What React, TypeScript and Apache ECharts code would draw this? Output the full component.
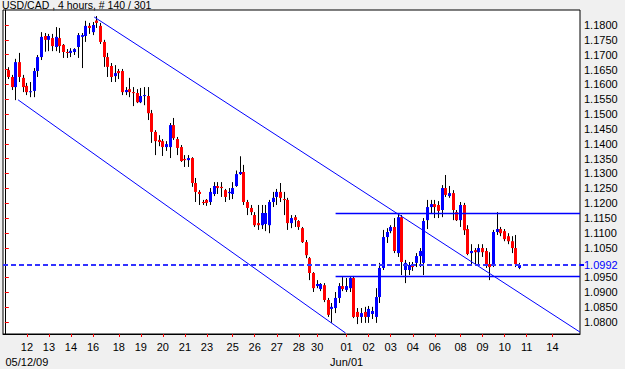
import React, { useEffect, useRef } from "react";
import * as echarts from "echarts";

const TITLE = "USD/CAD , 4 hours, # 140 / 301";
const SLOT_COUNT = 157;
const FIRST_SLOT = 1;

const tickSlots = [6, 12, 18, 24, 31, 37, 43, 49, 55, 62, 68, 74, 80, 85, 93, 99, 105, 111, 117, 124, 130, 136, 142, 149];
const tickLabels = ["12", "13", "14", "16", "18", "19", "20", "21", "23", "25", "26", "27", "28", "30", "01", "02", "03", "04", "06", "08", "09", "10", "11", "14"];
const dateSlots = [6, 93];
const dateLabels = ["05/12/09", "Jun/01"];

const priceTicks = [1.08, 1.085, 1.09, 1.095, 1.105, 1.11, 1.115, 1.12, 1.125, 1.13, 1.135, 1.14, 1.145, 1.15, 1.155, 1.16, 1.165, 1.17, 1.175, 1.18];
const lastPrice = 1.0992;
const Y_MIN = 1.07596;
const Y_MAX = 1.18505;

const opens = [
  1.1648, 1.1625, 1.1591, 1.1675, 1.1622, 1.1595, 1.1574, 1.1578, 1.1645, 1.1692,
  1.1763, 1.1750, 1.1756, 1.1726, 1.1756, 1.1733, 1.1709, 1.1706, 1.1709, 1.1726,
  1.1760, 1.1763, 1.1797, 1.1776, 1.1815, 1.1797, 1.1743, 1.1692, 1.1662, 1.1628,
  1.1645, 1.1645, 1.1574, 1.1584, 1.1574, 1.1571, 1.1540, 1.1561, 1.1561, 1.1503,
  1.1440, 1.1413, 1.1409, 1.1389, 1.1389, 1.1463, 1.1416, 1.1389, 1.1349, 1.1345,
  1.1352, 1.1268, 1.1238, 1.1204, 1.1211, 1.1204, 1.1231, 1.1258, 1.1255, 1.1244,
  1.1234, 1.1231, 1.1258, 1.1298, 1.1305, 1.1204, 1.1184, 1.1160, 1.1133, 1.1126,
  1.1130, 1.1126, 1.1204, 1.1221, 1.1238, 1.1214, 1.1211, 1.1133, 1.1153, 1.1140,
  1.1116, 1.1069, 1.1015, 1.0965, 1.0921, 1.0911, 1.0924, 1.0874, 1.0844, 1.0847,
  1.0881, 1.0921, 1.0908, 1.0914, 1.0948, 1.0834, 1.0817, 1.0834, 1.0817, 1.0827,
  1.0817, 1.0884, 1.0982, 1.1086, 1.1106, 1.1120, 1.1032, 1.1153, 1.0975, 1.0975,
  1.0995, 1.0999, 1.1022, 1.0999, 1.1143, 1.1187, 1.1197, 1.1194, 1.1177, 1.1251,
  1.1224, 1.1234, 1.1170, 1.1143, 1.1194, 1.1113, 1.1032, 1.1042, 1.1035, 1.1049,
  1.1039, 1.0995, 1.0992, 1.1103, 1.1113, 1.1106, 1.1089, 1.1072, 1.1049, 1.0982,
];
const closes = [
  1.1625, 1.1591, 1.1675, 1.1625, 1.1591, 1.1574, 1.1577, 1.1645, 1.1692, 1.1760,
  1.1750, 1.1763, 1.1729, 1.1760, 1.1729, 1.1709, 1.1706, 1.1713, 1.1719, 1.1766,
  1.1766, 1.1797, 1.1790, 1.1800, 1.1807, 1.1743, 1.1692, 1.1659, 1.1625, 1.1638,
  1.1638, 1.1574, 1.1581, 1.1574, 1.1571, 1.1540, 1.1561, 1.1564, 1.1503, 1.1440,
  1.1409, 1.1406, 1.1389, 1.1399, 1.1463, 1.1419, 1.1386, 1.1342, 1.1345, 1.1352,
  1.1268, 1.1238, 1.1231, 1.1201, 1.1201, 1.1238, 1.1258, 1.1251, 1.1251, 1.1221,
  1.1238, 1.1251, 1.1298, 1.1305, 1.1204, 1.1184, 1.1170, 1.1126, 1.1126, 1.1167,
  1.1167, 1.1204, 1.1218, 1.1238, 1.1218, 1.1211, 1.1133, 1.1150, 1.1143, 1.1120,
  1.1069, 1.1025, 1.0965, 1.0914, 1.0928, 1.0928, 1.0874, 1.0824, 1.0851, 1.0881,
  1.0921, 1.0911, 1.0921, 1.0948, 1.0817, 1.0817, 1.0830, 1.0817, 1.0844, 1.0837,
  1.0884, 1.0982, 1.1086, 1.1103, 1.1120, 1.1039, 1.1153, 1.1002, 1.0999, 1.0992,
  1.0985, 1.1022, 1.1039, 1.1140, 1.1187, 1.1197, 1.1187, 1.1174, 1.1251, 1.1228,
  1.1234, 1.1177, 1.1143, 1.1194, 1.1109, 1.1029, 1.1039, 1.1035, 1.1049, 1.1035,
  1.0992, 1.0985, 1.1103, 1.1113, 1.1099, 1.1079, 1.1072, 1.1049, 1.0995, 1.0992,
];
const lows = [
  1.1618, 1.1581, 1.1547, 1.1608, 1.1574, 1.1564, 1.1557, 1.1557, 1.1625, 1.1682,
  1.1710, 1.1712, 1.1712, 1.1712, 1.1706, 1.1689, 1.1689, 1.1692, 1.1699, 1.1689,
  1.1655, 1.1743, 1.1770, 1.1766, 1.1790, 1.1736, 1.1659, 1.1625, 1.1608, 1.1608,
  1.1618, 1.1564, 1.1564, 1.1557, 1.1527, 1.1537, 1.1537, 1.1530, 1.1480, 1.1403,
  1.1362, 1.1392, 1.1359, 1.1376, 1.1352, 1.1413, 1.1362, 1.1339, 1.1322, 1.1322,
  1.1255, 1.1204, 1.1194, 1.1194, 1.1191, 1.1194, 1.1224, 1.1231, 1.1221, 1.1204,
  1.1211, 1.1214, 1.1255, 1.1295, 1.1194, 1.1160, 1.1160, 1.1120, 1.1110, 1.1113,
  1.1106, 1.1099, 1.1187, 1.1194, 1.1204, 1.1160, 1.1110, 1.1116, 1.1120, 1.1110,
  1.1066, 1.1015, 1.0941, 1.0901, 1.0914, 1.0904, 1.0867, 1.0817, 1.0797, 1.0830,
  1.0864, 1.0904, 1.0901, 1.0901, 1.0813, 1.0793, 1.0797, 1.0797, 1.0797, 1.0810,
  1.0797, 1.0864, 1.0975, 1.1066, 1.1099, 1.1032, 1.1019, 1.0958, 1.0931, 1.0958,
  1.0972, 1.0985, 1.0985, 1.0958, 1.1113, 1.1164, 1.1150, 1.1150, 1.1153, 1.1221,
  1.1218, 1.1143, 1.1140, 1.1120, 1.1093, 1.1025, 1.0995, 1.0992, 1.0992, 1.1019,
  1.0982, 1.0941, 1.0985, 1.1093, 1.1089, 1.1072, 1.1062, 1.1032, 1.0985, 1.0978,
];
const highs = [
  1.1658, 1.1632, 1.1686, 1.1706, 1.1632, 1.1605, 1.1608, 1.1655, 1.1699, 1.1776,
  1.1773, 1.1770, 1.1770, 1.1793, 1.1790, 1.1736, 1.1719, 1.1722, 1.1722, 1.1773,
  1.1773, 1.1814, 1.1807, 1.1810, 1.1830, 1.1807, 1.1750, 1.1706, 1.1672, 1.1665,
  1.1652, 1.1652, 1.1591, 1.1622, 1.1591, 1.1584, 1.1588, 1.1591, 1.1591, 1.1514,
  1.1446, 1.1429, 1.1416, 1.1409, 1.1470, 1.1487, 1.1423, 1.1396, 1.1362, 1.1362,
  1.1355, 1.1285, 1.1244, 1.1211, 1.1214, 1.1251, 1.1271, 1.1271, 1.1271, 1.1248,
  1.1251, 1.1271, 1.1310, 1.1358, 1.1329, 1.1211, 1.1194, 1.1170, 1.1194, 1.1194,
  1.1194, 1.1211, 1.1238, 1.1248, 1.1268, 1.1238, 1.1218, 1.1160, 1.1160, 1.1143,
  1.1120, 1.1076, 1.1019, 1.0968, 1.0941, 1.0931, 1.0931, 1.0881, 1.0864, 1.0901,
  1.0931, 1.0951, 1.0948, 1.0951, 1.0955, 1.0847, 1.0847, 1.0851, 1.0854, 1.0851,
  1.0914, 1.0999, 1.1110, 1.1116, 1.1126, 1.1150, 1.1167, 1.1160, 1.1009, 1.1002,
  1.1002, 1.1032, 1.1049, 1.1150, 1.1211, 1.1211, 1.1211, 1.1207, 1.1261, 1.1295,
  1.1258, 1.1244, 1.1177, 1.1204, 1.1201, 1.1126, 1.1062, 1.1049, 1.1062, 1.1062,
  1.1049, 1.1035, 1.1110, 1.1170, 1.1120, 1.1113, 1.1099, 1.1089, 1.1093, 1.0999,
];

// line endpoints: [slot position, price]
const upperChannel = [[24.3, 1.1827], [156.5, 1.0766]];
const lowerChannel = [[3.6, 1.1548], [92.7, 1.0763]];
const resistanceLine = [[90, 1.1165], [156.5, 1.1165]];
const supportLine = [[90, 1.0953], [156.5, 1.0953]];
const lastPriceLine = [[-0.5, lastPrice], [156.5, lastPrice]];

export default function App() {
  const ref = useRef<HTMLDivElement>(null);

  useEffect(() => {
    document.body.style.margin = "0";
    const chart = echarts.init(ref.current as HTMLDivElement, undefined, { renderer: "svg" });

    const categories: string[] = [];
    const dateCats: string[] = [];
    for (let i = 0; i < SLOT_COUNT; i++) {
      categories.push("");
      dateCats.push("");
    }
    tickSlots.forEach((s, j) => (categories[s] = tickLabels[j]));
    dateSlots.forEach((s, j) => (dateCats[s] = dateLabels[j]));

    const candleData = opens.map((o, i) => [i + FIRST_SLOT, o, closes[i], lows[i], highs[i]]);

    const font = "Arial, 'Liberation Sans', sans-serif";

    const lineSeries = (data: number[][], color: string, width: number, type: any = "solid") => ({
      type: "line",
      xAxisIndex: 1,
      yAxisIndex: 0,
      data,
      symbol: "none",
      silent: true,
      lineStyle: { color, width, type },
      z: 5,
    });

    const option: any = {
      animation: false,
      backgroundColor: "#f0f0f0",
      textStyle: { fontFamily: font },
      graphic: [
        {
          type: "text",
          left: 2,
          top: -1,
          style: { text: TITLE, fill: "#000", font: `10.5px ${font}` },
        },
      ],
      grid: {
        left: 3,
        top: 10,
        right: 45,
        bottom: 35,
        show: true,
        backgroundColor: "#ffffff",
        borderColor: "#000",
        borderWidth: 1,
      },
      xAxis: [
        {
          type: "category",
          data: categories,
          boundaryGap: true,
          axisLine: { show: true, lineStyle: { color: "#000", width: 1 } },
          axisTick: {
            show: true,
            alignWithLabel: true,
            interval: (i: number) => categories[i] !== "",
            length: 3,
            lineStyle: { color: "#ff0000" },
          },
          axisLabel: {
            interval: (i: number) => categories[i] !== "",
            showMinLabel: true,
            hideOverlap: false,
            color: "#000",
            fontSize: 11,
            fontFamily: font,
            margin: 7,
          },
          splitLine: { show: false },
        },
        { type: "value", min: -0.5, max: SLOT_COUNT - 0.5, show: false },
        {
          type: "category",
          data: dateCats,
          boundaryGap: true,
          position: "bottom",
          axisLine: { show: false },
          axisTick: { show: false },
          axisLabel: {
            interval: (i: number) => dateCats[i] !== "",
            showMinLabel: true,
            hideOverlap: false,
            color: "#000",
            fontSize: 11,
            fontFamily: font,
            margin: 22,
          },
          splitLine: { show: false },
        },
      ],
      yAxis: [
        {
          type: "value",
          position: "right",
          min: Y_MIN,
          max: Y_MAX,
          splitLine: { show: false },
          axisLine: { show: true, lineStyle: { color: "#000" } },
          axisTick: { show: true, customValues: priceTicks, length: 4, lineStyle: { color: "#ff0000" } },
          axisLabel: {
            customValues: priceTicks,
            formatter: (v: number) => v.toFixed(4),
            color: "#000",
            fontSize: 11,
            fontFamily: font,
            margin: 4,
          },
        },
        {
          type: "value",
          position: "right",
          min: Y_MIN,
          max: Y_MAX,
          splitLine: { show: false },
          axisLine: { show: false },
          axisTick: { show: true, customValues: [lastPrice], length: 4, lineStyle: { color: "#0000ff", width: 2 } },
          axisLabel: {
            customValues: [lastPrice],
            formatter: (v: number) => v.toFixed(4),
            color: "#0000ff",
            fontSize: 11,
            fontFamily: font,
            margin: 4,
          },
        },
      ],
      series: [
        {
          type: "custom",
          xAxisIndex: 0,
          yAxisIndex: 0,
          data: candleData,
          encode: { x: 0, y: [1, 2, 3, 4] },
          z: 3,
          renderItem: (params: any, api: any) => {
            const idx = api.value(0);
            const o = api.value(1);
            const c = api.value(2);
            const l = api.value(3);
            const h = api.value(4);
            const top = api.coord([idx, Math.max(o, c)]);
            const bot = api.coord([idx, Math.min(o, c)]);
            const hi = api.coord([idx, h]);
            const lo = api.coord([idx, l]);
            const x = Math.floor(top[0]) + 0.5;
            const color = c >= o ? "#0000ff" : "#ff0000";
            const bh = Math.max(1, bot[1] - top[1]);
            return {
              type: "group",
              children: [
                {
                  type: "line",
                  shape: { x1: x, y1: hi[1], x2: x, y2: lo[1] },
                  style: { stroke: "#000", lineWidth: 1 },
                },
                {
                  type: "rect",
                  shape: { x: x - 1.5, y: top[1], width: 3, height: bh },
                  style: { fill: color },
                },
              ],
            };
          },
        },
        lineSeries(upperChannel, "#0000ff", 1),
        lineSeries(lowerChannel, "#0000ff", 1),
        lineSeries(resistanceLine, "#0000ff", 1.5),
        lineSeries(supportLine, "#0000ff", 1.5),
        lineSeries(lastPriceLine, "#3333ff", 2, [5, 3]),
      ],
    };

    chart.setOption(option);
    return () => chart.dispose();
  }, []);

  return <div ref={ref} style={{ width: 625, height: 369 }} />;
}
